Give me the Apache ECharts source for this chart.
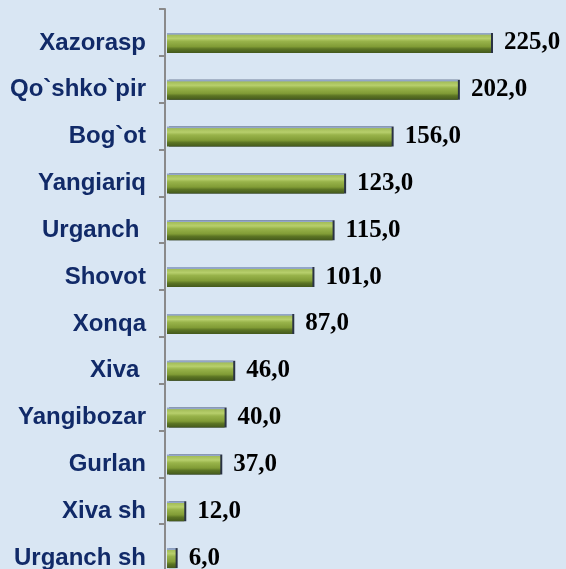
<!DOCTYPE html>
<html>
<head>
<meta charset="utf-8">
<script src="https://cdn.jsdelivr.net/npm/echarts@6/dist/echarts.min.js"></script>
<style>
  html, body { margin: 0; padding: 0; }
  #chart { width: 566px; height: 569px; }
</style>
</head>
<body>
<div id="chart"></div>
<script>
// districts, top to bottom (trailing spaces as in the original labels)
const districts = ['Xazorasp', 'Qo`shko`pir', 'Bog`ot', 'Yangiariq', 'Urganch ', 'Shovot',
  'Xonqa', 'Xiva ', 'Yangibozar', 'Gurlan', 'Xiva sh', 'Urganch sh']
const values = [225, 202, 156, 123, 115, 101, 87, 46, 40, 37, 12, 6]

const chart = echarts.init(document.getElementById('chart'))

// bar fill: blue-grey top edge, light bevel, green face, dark bottom bevel
const barFill = new echarts.graphic.LinearGradient(0, 0, 0, 1, [
  { offset: 0, color: '#93a6c8' },
  { offset: 0.07, color: '#93a6c8' },
  { offset: 0.1, color: '#a3bd58' },
  { offset: 0.28, color: '#b7cf6c' },
  { offset: 0.42, color: '#98b34a' },
  { offset: 0.68, color: '#819c36' },
  { offset: 0.8, color: '#5c7524' },
  { offset: 1, color: '#44591c' }
])

chart.setOption({
  backgroundColor: '#d9e6f3',
  grid: [
    { left: 167, top: 19.5, width: 360, height: 562, outerBoundsMode: 'none' },
    // only for the axis line + ticks, which sit a bit above the bands
    { left: 165, top: 9, width: 360, height: 562, outerBoundsMode: 'none' }
  ],
  xAxis: [
    { gridIndex: 0, type: 'value', min: 0, max: 250, show: false },
    { gridIndex: 1, type: 'value', min: 0, max: 250, show: false }
  ],
  yAxis: [
    {
      gridIndex: 0,
      type: 'category',
      inverse: true,
      data: districts,
      axisLine: { show: false },
      axisTick: { show: false },
      axisLabel: {
        margin: 21,
        color: '#112a68',
        fontFamily: 'Liberation Sans',
        fontWeight: 'bold',
        fontSize: 24
      }
    },
    {
      gridIndex: 1,
      type: 'category',
      inverse: true,
      data: districts,
      axisLine: { show: true, lineStyle: { color: '#8a8a8a', width: 2 } },
      axisTick: { show: true, length: 6, lineStyle: { color: '#8a8a8a', width: 2 } },
      axisLabel: { show: false }
    }
  ],
  series: [
    {
      type: 'bar',
      xAxisIndex: 0,
      yAxisIndex: 0,
      data: values,
      barWidth: 20,
      itemStyle: {
        color: barFill,
        shadowColor: '#2a3243',
        shadowBlur: 0,
        shadowOffsetX: 2
      },
      label: {
        show: true,
        position: 'right',
        distance: 13,
        formatter: p => p.value.toFixed(1).replace('.', ','),
        color: '#000',
        fontFamily: 'Liberation Serif',
        fontWeight: 'bold',
        fontSize: 25
      }
    }
  ]
})
</script>
</body>
</html>
